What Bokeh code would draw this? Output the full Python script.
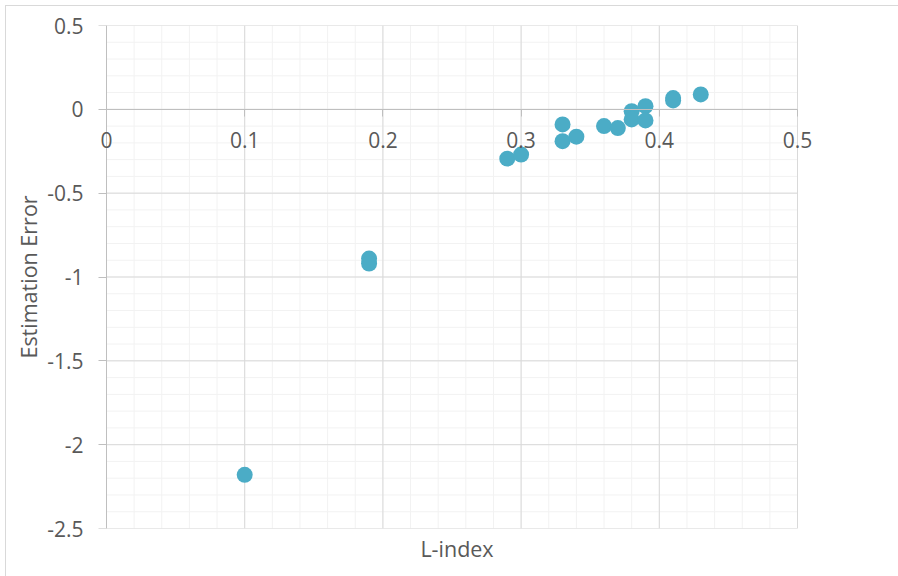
from bokeh.plotting import figure
from bokeh.models import (LinearAxis, FixedTicker, Range1d, LabelSet,
                          ColumnDataSource)
from bokeh.core.properties import value
from bokeh.embed import file_html
from bokeh.resources import INLINE

# ---- data ----
l_index = [0.10, 0.19, 0.19, 0.29, 0.30, 0.33, 0.33, 0.34, 0.36, 0.37,
           0.38, 0.38, 0.39, 0.39, 0.41, 0.41, 0.43]
est_error = [-2.18, -0.89, -0.92, -0.294, -0.27, -0.09, -0.19, -0.163, -0.10, -0.112,
             -0.011, -0.06, 0.019, -0.066, 0.067, 0.053, 0.089]

x_ticks = [0, 0.1, 0.2, 0.3, 0.4, 0.5]
x_tick_labels = ["0", "0.1", "0.2", "0.3", "0.4", "0.5"]
x_minor = [round(i * 0.02, 2) for i in range(26)]
y_ticks = [-2.5, -2, -1.5, -1, -0.5, 0, 0.5]
y_tick_labels = ["-2.5", "-2", "-1.5", "-1", "-0.5", "0", "0.5"]
y_minor = [round(-2.5 + i * 0.1, 1) for i in range(31)]

X0, X1 = x_ticks[0], x_ticks[-1]
Y0, Y1 = y_ticks[0], y_ticks[-1]

FONT = "Open Sans"
TXT = "#595959"
AXIS = "#bfbfbf"
GRID = "#d9d9d9"
MINOR = "#f2f2f2"
TICK_FS = "21px"
TITLE_FS = "21.5px"

PX_PER_X = 1382.0          # pixels per x unit of the plot area
PAD_L, PAD_R = 10, 20      # frame padding (pixels) so edge labels are not clipped

p = figure(frame_width=691 + PAD_L + PAD_R, frame_height=503,
           x_range=Range1d(X0 - PAD_L / PX_PER_X, X1 + PAD_R / PX_PER_X),
           y_range=Range1d(Y0, Y1),
           output_backend="svg", toolbar_location=None,
           min_border_left=106 - PAD_L, min_border_right=101 - PAD_R,
           min_border_top=25, min_border_bottom=48,
           background_fill_color="white", border_fill_alpha=0,
           styles={"background":
                   "linear-gradient(#d9d9d9,#d9d9d9) 5px 5px / 1px 100% no-repeat,"
                   "linear-gradient(#d9d9d9,#d9d9d9) 5px 5px / 100% 1px no-repeat,"
                   "white"})
p.outline_line_color = None
p.xgrid.visible = False
p.ygrid.visible = False

# ---- grid lines limited to the plot area ----
p.segment(x0=x_minor, x1=x_minor, y0=[Y0] * len(x_minor), y1=[Y1] * len(x_minor),
          line_color=MINOR, line_width=1)
p.segment(x0=[X0] * len(y_minor), x1=[X1] * len(y_minor), y0=y_minor, y1=y_minor,
          line_color=MINOR, line_width=1)
p.segment(x0=x_ticks, x1=x_ticks, y0=[Y0] * len(x_ticks), y1=[Y1] * len(x_ticks),
          line_color=GRID, line_width=1)
p.segment(x0=[X0] * len(y_ticks), x1=[X1] * len(y_ticks), y0=y_ticks, y1=y_ticks,
          line_color=GRID, line_width=1)

# ---- x axis at y = 0 (line + ticks); labels as a LabelSet ----
xa = p.xaxis[0]
xa.ticker = FixedTicker(ticks=x_ticks)
xa.fixed_location = 0
xa.bounds = (X0, X1)
xa.axis_line_color = AXIS
xa.major_tick_line_color = AXIS
xa.major_tick_in = 0
xa.major_tick_out = 7
xa.minor_tick_line_color = None
xa.major_label_text_alpha = 0
xa.major_label_text_font_size = "1px"

xlab_src = ColumnDataSource(dict(x=x_ticks, y=[0] * len(x_ticks), text=x_tick_labels))
p.add_layout(LabelSet(x="x", y="y", text="text", source=xlab_src,
                      text_font=value(FONT), text_font_size=value(TICK_FS),
                      text_color=TXT, text_align="center", text_baseline="middle",
                      y_offset=-31))

# ---- y axis: labels/title in the side panel, line + ticks at x = 0 ----
ya = p.yaxis[0]
ya.ticker = FixedTicker(ticks=y_ticks)
ya.major_label_overrides = {t: l for t, l in zip(y_ticks, y_tick_labels)}
ya.axis_line_color = None
ya.major_tick_line_color = None
ya.major_tick_in = 0
ya.major_tick_out = 0
ya.minor_tick_line_color = None
ya.major_label_text_font = FONT
ya.major_label_text_font_size = TICK_FS
ya.major_label_text_color = TXT
ya.major_label_standoff = 13
ya.axis_label = "Estimation Error"
ya.axis_label_text_font = FONT
ya.axis_label_text_font_size = TITLE_FS
ya.axis_label_text_font_style = "normal"
ya.axis_label_text_color = TXT
ya.axis_label_standoff = 1

yfix = LinearAxis(ticker=FixedTicker(ticks=y_ticks), fixed_location=X0,
                  axis_line_color=AXIS, major_tick_line_color=AXIS,
                  major_tick_in=0, major_tick_out=8, minor_tick_line_color=None,
                  major_label_text_alpha=0, major_label_text_font_size="1px")
p.add_layout(yfix, "left")

# ---- x title below the frame ----
title_axis = LinearAxis(ticker=FixedTicker(ticks=[]), axis_line_color=None,
                        major_tick_line_color=None, minor_tick_line_color=None,
                        axis_label="L-index", axis_label_text_font=FONT,
                        axis_label_text_font_size=TITLE_FS,
                        axis_label_text_font_style="normal",
                        axis_label_text_color=TXT, axis_label_standoff=5)
p.add_layout(title_axis, "below")

p.scatter(l_index, est_error, size=16, fill_color="#4bacc6",
          line_color="#4bacc6", line_width=0)

open("out.html", "w").write(file_html(p, INLINE))
